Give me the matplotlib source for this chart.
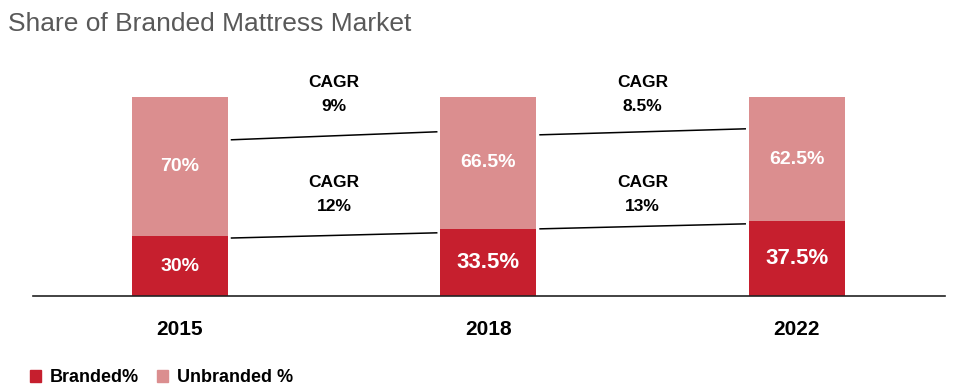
import matplotlib.pyplot as plt
from matplotlib.patches import Rectangle

plt.rcParams['font.family'] = ['Liberation Sans', 'DejaVu Sans']

years = ['2015', '2018', '2022']
branded = [30, 33.5, 37.5]
unbranded = [70, 66.5, 62.5]

# CAGR between consecutive years: (upper = unbranded, lower = branded)
cagr_upper = ['9%', '8.5%']
cagr_lower = ['12%', '13%']
# connector line levels (start, end) drawn between bars
upper_lines = [(78.4, 82.4), (80.9, 83.9)]
lower_lines = [(29.1, 31.7), (33.7, 36.2)]

c_brand = '#C61F2E'
c_unbrand = '#DB8E8F'
brand_sizes = [14, 16, 16]

fig = plt.figure(figsize=(9.62, 3.91), dpi=100)
ax = fig.add_axes([0.0343, 0.243, 0.948, 0.586])

x = range(len(years))
w = 0.311
ax.bar(x, branded, width=w, color=c_brand)
ax.bar(x, unbranded, width=w, bottom=branded, color=c_unbrand)

for i in x:
    ax.text(i, branded[i] / 2, f'{branded[i]:g}%', ha='center', va='center',
            color='white', fontsize=brand_sizes[i], fontweight='bold')
    ax.text(i, branded[i] + unbranded[i] / 2, f'{unbranded[i]:g}%', ha='center',
            va='center', color='white', fontsize=14, fontweight='bold')

gap = 0.012
for i in range(len(years) - 1):
    x0 = i + w / 2 + gap
    x1 = i + 1 - w / 2 - gap
    ax.plot([x0, x1], upper_lines[i], color='black', lw=1.1)
    ax.plot([x0, x1], lower_lines[i], color='black', lw=1.1)
    ax.text(i + 0.5, 101, f'CAGR\n{cagr_upper[i]}', ha='center', va='center',
            fontsize=12.5, fontweight='bold', linespacing=1.75)
    ax.text(i + 0.5, 50.7, f'CAGR\n{cagr_lower[i]}', ha='center', va='center',
            fontsize=12.5, fontweight='bold', linespacing=1.75)

ax.set_xlim(-0.476, 2.48)
ax.set_ylim(0, 115)
ax.set_xticks(list(x))
ax.set_xticklabels(years, fontsize=15, fontweight='bold')
ax.tick_params(axis='x', length=0, pad=17)
ax.set_yticks([])
for s in ['top', 'right', 'left']:
    ax.spines[s].set_visible(False)
ax.spines['bottom'].set_color('#222222')
ax.spines['bottom'].set_linewidth(1.2)

fig.text(0.008, 0.938, 'Share of Branded Mattress Market', fontsize=19,
         color='#595959', va='center', ha='left')

ax.legend(handles=[Rectangle((0, 0), 1, 1, color=c_brand, label='Branded%'),
                   Rectangle((0, 0), 1, 1, color=c_unbrand, label='Unbranded %')],
          loc='center left', bbox_to_anchor=(0.027, 1 - 378 / 391), bbox_transform=fig.transFigure,
          ncol=2, frameon=False, handlelength=0.62, handleheight=0.62,
          handletextpad=0.5, columnspacing=1.0, borderaxespad=0, borderpad=0.2,
          prop={'size': 13, 'weight': 'bold'})

fig.savefig('out.png', dpi=100)
